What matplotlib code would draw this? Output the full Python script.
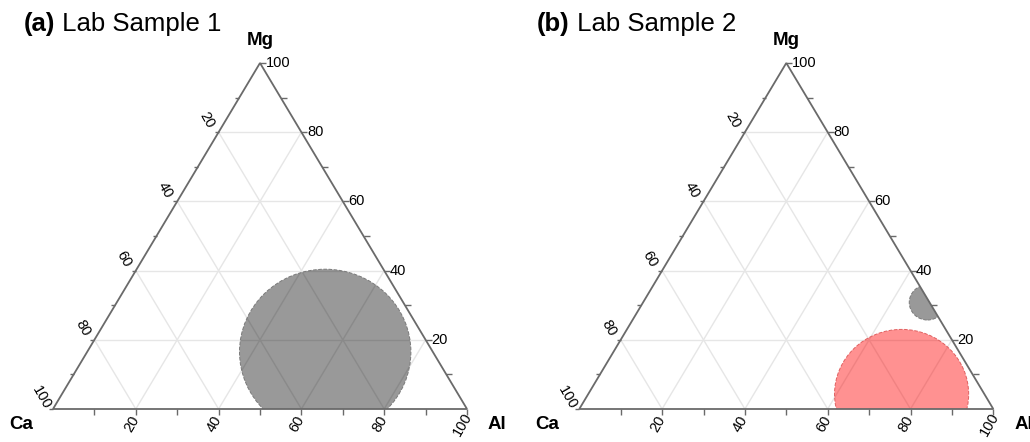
import numpy as np
import matplotlib.pyplot as plt
from matplotlib.patches import Circle, Polygon
from matplotlib.markers import TICKDOWN, TICKRIGHT, TICKLEFT

plt.rcParams['font.family'] = ['Liberation Sans', 'DejaVu Sans']

H = np.sqrt(3) / 2

# axis ticks in percent
tick_values = [20, 40, 60, 80, 100]
minor_values = [10, 30, 50, 70, 90]
grid_values = [20, 40, 60, 80]

panel_tags = ['(a)', '(b)']
panel_names = ['Lab Sample 1', 'Lab Sample 2']

# inclusion clouds: centre composition (Ca, Al, Mg in %) and radius (%)
s1_ca = [26.0]
s1_al = [57.5]
s1_mg = [16.5]
s1_radius = [20.7]

s2_ca = [0.5, 20.0]
s2_al = [68.7, 75.7]
s2_mg = [30.8, 4.3]
s2_radius = [4.4, 16.2]

s1_colors = [(0, 0, 0, 0.40)]
s2_colors = [(0, 0, 0, 0.40), (1, 0, 0, 0.43)]
s1_edges = ['#7a7a7a']
s2_edges = ['#7a7a7a', '#e06060']

EDGE = '#6a6a6a'
GRID = '#e6e6e6'


def tern(ca, al, mg):
    """Ca at lower left, Al at lower right, Mg at top."""
    tot = ca + al + mg
    return (al + mg / 2) / tot, mg / tot * H


def draw_panel(ax, ca, al, mg, radius, colors, edges):
    ax.set_xlim(0, 1)
    ax.set_ylim(0, H)
    ax.axis('off')

    tri = Polygon([[0, 0], [1, 0], [0.5, H]], closed=True, fc='none',
                  ec=EDGE, lw=1.3, zorder=5, clip_on=False)
    ax.add_patch(tri)

    # light grid lines
    for v in grid_values:
        for a, b in [(tern(100 - v, 0, v), tern(0, 100 - v, v)),
                     (tern(100 - v, v, 0), tern(0, v, 100 - v)),
                     (tern(v, 100 - v, 0), tern(v, 0, 100 - v))]:
            ax.plot([a[0], b[0]], [a[1], b[1]], color=GRID, lw=1.0, zorder=1)

    # composition clouds, clipped to the diagram
    for c_, a_, m_, r_, fc, ec in zip(ca, al, mg, radius, colors, edges):
        circ = Circle(tern(c_, a_, m_), r_ / 100, fc=fc, ec=ec, lw=0.7,
                      ls='--', zorder=3)
        ax.add_patch(circ)
        circ.set_clip_path(tri)

    # tick marks
    all_ticks = sorted(tick_values + minor_values)
    bx, by = zip(*[tern(100 - v, v, 0) for v in all_ticks])
    ax.plot(bx, by, ls='none', marker=TICKDOWN, ms=4, mew=1, color=EDGE, clip_on=False)
    rx, ry = zip(*[tern(0, 100 - v, v) for v in all_ticks])
    ax.plot(rx, ry, ls='none', marker=TICKRIGHT, ms=4, mew=1, color=EDGE, clip_on=False)
    lx, ly = zip(*[tern(v, 0, 100 - v) for v in all_ticks])
    ax.plot(lx, ly, ls='none', marker=TICKLEFT, ms=3, mew=1, color=EDGE, clip_on=False)

    # tick labels
    for v in tick_values:
        ax.annotate(str(v), tern(100 - v, v, 0), xytext=(-3, -11),
                    textcoords='offset points', rotation=60,
                    ha='center', va='center', fontsize=10.5)
        ax.annotate(str(v), tern(v, 0, 100 - v), xytext=(-8.5, 8.5),
                    textcoords='offset points', rotation=-60,
                    ha='center', va='center', fontsize=10.5)
        ax.annotate(str(v), tern(0, 100 - v, v), xytext=(4, 0),
                    textcoords='offset points',
                    ha='left', va='center', fontsize=10.5)

    # corner labels
    ax.annotate('Mg', tern(0, 0, 100), xytext=(0, 16.5), textcoords='offset points',
                ha='center', va='center', fontsize=13.5, fontweight='bold')
    ax.annotate('Ca', tern(100, 0, 0), xytext=(-23, -11.5), textcoords='offset points',
                ha='center', va='center', fontsize=13.5, fontweight='bold')
    ax.annotate('Al', tern(0, 100, 0), xytext=(15, -11.5), textcoords='offset points',
                ha='left', va='center', fontsize=13.5, fontweight='bold')


fig = plt.figure(figsize=(10.30, 4.42), dpi=100)

ax1 = fig.add_axes([53 / 1030, 33 / 442, 414 / 1030, 346 / 442])
ax2 = fig.add_axes([579.3 / 1030, 33 / 442, 414 / 1030, 346 / 442])

draw_panel(ax1, s1_ca, s1_al, s1_mg, s1_radius, s1_colors, s1_edges)
draw_panel(ax2, s2_ca, s2_al, s2_mg, s2_radius, s2_colors, s2_edges)

# panel titles: bold tag followed by the sample name
for x0, tag, name in zip([24 / 1030, 537 / 1030], panel_tags, panel_names):
    t = fig.text(x0, 1 - 31 / 442, tag, fontsize=18.5, fontweight='bold',
                 ha='left', va='baseline')
    fig.add_artist(plt.Annotation(' ' + name, xy=(1, 0), xycoords=t,
                                  ha='left', va='bottom', fontsize=18.5))

fig.savefig('out.png', dpi=100)
